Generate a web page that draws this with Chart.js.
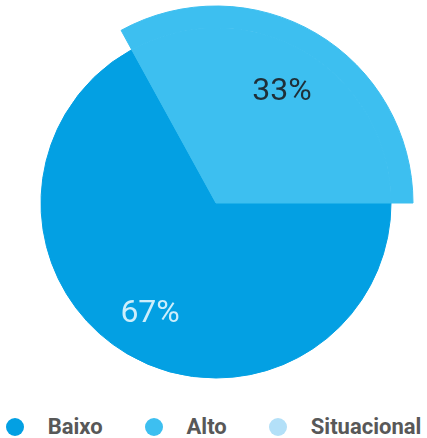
<!DOCTYPE html>
<html lang="pt">
<head>
  <meta charset="UTF-8" />
  <title>Baixo / Alto / Situacional</title>
  <script src="https://cdn.jsdelivr.net/npm/chart.js"></script>
  <style>
    html, body {
      margin: 0;
      padding: 0;
      background: #ffffff;
      width: 427px;
      height: 438px;
      overflow: hidden;
      font-family: Roboto, "Noto Sans", Arial, sans-serif;
    }
    .chart-box {
      position: absolute;
      left: 0;
      top: 0;
      width: 427px;
      height: 406px;
    }
    /* legend drawn as html so the spacing can match */
    .legend {
      position: absolute;
      left: 0;
      top: 415px;
      width: 427px;
      height: 24px;
      display: flex;
      justify-content: center;
      align-items: center;
      gap: 42px;
    }
    .legend-item {
      display: flex;
      align-items: center;
      font-weight: bold;
      font-size: 22px;
      color: #585858;
      line-height: 24px;
    }
    .legend-item .dot {
      width: 18px;
      height: 18px;
      border-radius: 50%;
      margin-right: 24px;
    }
  </style>
</head>
<body>
  <div class="chart-box">
    <canvas id="pieChart"></canvas>
  </div>
  <div class="legend" id="legend"></div>

  <script>
    const categories = ['Baixo', 'Alto', 'Situacional'];
    const values = [67, 33, 0];
    const colors = ['#03a0e3', '#3dbff0', '#b3e0f8'];
    const labelColors = ['#cdeefb', '#1f2f38', '#1f2f38'];

    // Alto is drawn with a bigger radius than the rest
    const bigRadius = 197;
    const smallRadius = 175;

    // outer ring only shows the highlighted slice
    const outerColors = colors.map((c, i) => i === 1 ? c : 'rgba(0,0,0,0)');

    const percentLabels = {
      id: 'percentLabels',
      afterDatasetsDraw(chart) {
        const meta = chart.getDatasetMeta(1);
        const total = values.reduce((a, b) => a + b, 0);
        const ctx = chart.ctx;
        ctx.save();
        ctx.font = '400 32px Roboto, "Noto Sans", sans-serif';
        ctx.textAlign = 'center';
        ctx.textBaseline = 'middle';
        meta.data.forEach((arc, i) => {
          if (!values[i]) return;
          const p = arc.getProps(['x', 'y', 'startAngle', 'endAngle', 'outerRadius'], true);
          const mid = (p.startAngle + p.endAngle) / 2;
          const r = p.outerRadius * 0.74;
          ctx.fillStyle = labelColors[i];
          ctx.fillText(Math.round(values[i] / total * 100) + '%',
            p.x + Math.cos(mid) * r, p.y + Math.sin(mid) * r);
        });
        ctx.restore();
      }
    };

    new Chart(document.getElementById('pieChart'), {
      type: 'pie',
      data: {
        labels: categories,
        datasets: [
          {
            data: values,
            backgroundColor: outerColors,
            borderColor: outerColors,
            borderWidth: 1,
            radius: bigRadius,
            weight: bigRadius - smallRadius
          },
          {
            data: values,
            backgroundColor: colors,
            borderColor: colors,
            borderWidth: 1,
            radius: bigRadius,
            weight: smallRadius
          }
        ]
      },
      options: {
        responsive: true,
        maintainAspectRatio: false,
        animation: false,
        rotation: 90,
        layout: { padding: { left: 5 } },
        plugins: {
          legend: { display: false },
          tooltip: { enabled: false }
        }
      },
      plugins: [percentLabels]
    });

    const legend = document.getElementById('legend');
    categories.forEach((name, i) => {
      const item = document.createElement('div');
      item.className = 'legend-item';
      const dot = document.createElement('span');
      dot.className = 'dot';
      dot.style.background = colors[i];
      item.appendChild(dot);
      item.appendChild(document.createTextNode(name));
      legend.appendChild(item);
    });
  </script>
</body>
</html>
